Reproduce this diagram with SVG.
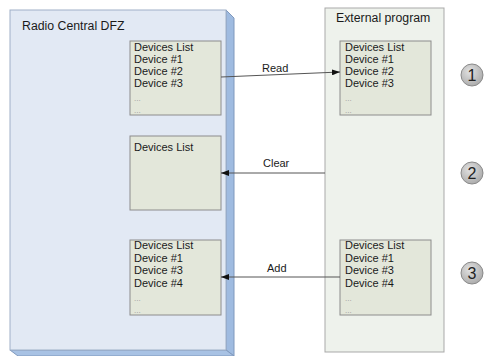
<svg xmlns="http://www.w3.org/2000/svg" width="484" height="356" viewBox="0 0 484 356">
<defs>
<style>
.t{font-family:"Liberation Sans",Arial,sans-serif;font-size:11px;fill:#1a1a1a}
.h{font-family:"Liberation Sans",Arial,sans-serif;font-size:12.3px;fill:#1a1a1a}
.d{font-family:"Liberation Sans",Arial,sans-serif;font-size:8px;fill:#999}
.lst{fill:#e3e7da;stroke:#8c8c8c;stroke-width:1}
.ln{stroke:#555;stroke-width:1;fill:none}
.num{font-family:"Liberation Sans",Arial,sans-serif;font-size:16px;fill:#222;text-anchor:middle}
.c{fill:url(#cg);stroke:#8a8a8a;stroke-width:1}
</style>
<radialGradient id="cg" cx="0.4" cy="0.35" r="0.7">
<stop offset="0" stop-color="#e2e2e2"/>
<stop offset="1" stop-color="#a9a9a9"/>
</radialGradient>
<marker id="ah" markerWidth="8" markerHeight="6" refX="8" refY="3" orient="auto" markerUnits="userSpaceOnUse">
<path d="M0,0 L8,3 L0,6 Z" fill="#111"/>
</marker>
</defs>
<rect width="484" height="356" fill="#ffffff"/>

<g id="radio-central">
<polygon points="226,10 234,18 234,356 226,350" fill="#9fbbe0" stroke="#7f98bd" stroke-width="1"/>
<polygon points="10,350 18,356 234,356 226,350" fill="#a8c2e4" stroke="#7f98bd" stroke-width="1"/>
<rect x="10" y="10" width="216" height="340" fill="#e2e9f4" stroke="#9fb0c8" stroke-width="1"/>
<text class="h" x="22" y="30">Radio Central DFZ</text>
</g>

<g id="external-program">
<rect x="325" y="8" width="119" height="344" fill="#eef2ec" stroke="#a9a9a9" stroke-width="1"/>
<text class="h" x="336" y="22">External program</text>
</g>

<g id="left-list-1">
<rect class="lst" x="130" y="41" width="91" height="74"/>
<text class="t" x="134" y="51">Devices List</text>
<text class="t" x="134" y="63">Device #1</text>
<text class="t" x="134" y="75">Device #2</text>
<text class="t" x="134" y="87">Device #3</text>
<text class="d" x="134" y="101">...</text>
<text class="d" x="134" y="113">...</text>
</g>

<g id="left-list-2">
<rect class="lst" x="130" y="136" width="91" height="74"/>
<text class="t" x="134" y="151">Devices List</text>
</g>

<g id="left-list-3">
<rect class="lst" x="130" y="240" width="91" height="75"/>
<text class="t" x="134" y="249">Devices List</text>
<text class="t" x="134" y="261.5">Device #1</text>
<text class="t" x="134" y="274">Device #3</text>
<text class="t" x="134" y="286.5">Device #4</text>
<text class="d" x="134" y="301">...</text>
<text class="d" x="134" y="313">...</text>
</g>

<g id="right-list-1">
<rect class="lst" x="340" y="41" width="91" height="74"/>
<text class="t" x="345" y="51">Devices List</text>
<text class="t" x="345" y="63">Device #1</text>
<text class="t" x="345" y="75">Device #2</text>
<text class="t" x="345" y="87">Device #3</text>
<text class="d" x="345" y="101">...</text>
<text class="d" x="345" y="113">...</text>
</g>

<g id="right-list-3">
<rect class="lst" x="340" y="240" width="91" height="75"/>
<text class="t" x="345" y="249">Devices List</text>
<text class="t" x="345" y="261.5">Device #1</text>
<text class="t" x="345" y="274">Device #3</text>
<text class="t" x="345" y="286.5">Device #4</text>
<text class="d" x="345" y="301">...</text>
<text class="d" x="345" y="313">...</text>
</g>

<g id="connectors">
<line class="ln" x1="221" y1="77" x2="340" y2="72" marker-end="url(#ah)"/>
<text class="t" x="262" y="72">Read</text>
<line class="ln" x1="325" y1="173" x2="221" y2="173" marker-end="url(#ah)"/>
<text class="t" x="263" y="167">Clear</text>
<line class="ln" x1="340" y1="277" x2="221" y2="277" marker-end="url(#ah)"/>
<text class="t" x="267" y="272">Add</text>
</g>

<g id="step-1">
<circle class="c" cx="472" cy="75" r="11"/>
<text class="num" x="472" y="81">1</text>
</g>
<g id="step-2">
<circle class="c" cx="472" cy="173" r="11"/>
<text class="num" x="472" y="179">2</text>
</g>
<g id="step-3">
<circle class="c" cx="472" cy="273" r="11"/>
<text class="num" x="472" y="279">3</text>
</g>
</svg>
